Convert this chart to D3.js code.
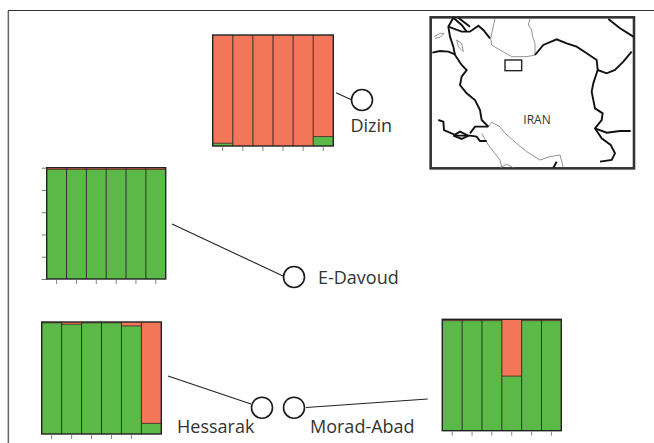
<!DOCTYPE html>
<html><head><meta charset="utf-8">
<style>html,body{margin:0;padding:0;background:#fff}svg{display:block}text{font-family:"Open Sans",sans-serif;fill:#333}</style>
<script src="https://cdn.jsdelivr.net/npm/d3@7"></script></head><body><svg id="c" width="654" height="443"></svg>
<script>
const sites = ["Dizin","E-Davoud","Hessarak","Morad-Abad"];
const dizinGreen = [0.025,0,0,0,0,0.085];
const davoudGreen = [0.985,0.985,0.985,0.985,0.985,0.985];
const hessarakGreen = [0.993,0.98,0.993,0.993,0.965,0.095];
const moradGreen = [0.988,0.988,0.988,0.49,0.988,0.988];
const individuals = [1,2,3,4,5,6];
const yTicks = [0,0.2,0.4,0.6,0.8,1];
const mapLabel = "IRAN";

// map outlines, in map-image units
const borders = [
 [[100,38],[85,65],[90,95],[100,125],[105,150],[125,180],[140,195],[125,215],[120,240],[140,265],[165,285],[180,315],[185,345],[205,365]],
 [[37,143],[60,138],[85,140],[105,148]],
 [[85,65],[125,80],[150,80],[175,62],[190,75],[210,100]],
 [[100,38],[125,60],[140,80]],[[115,38],[150,65]],
 [[345,150],[370,120],[410,103],[440,115],[470,125],[500,145],[530,165],[533,195],[520,235],[515,260],[525,310],[548,325],[545,345],[525,370],[545,400],[572,420],[585,445],[575,465],[540,470]],
 [[533,195],[560,205],[585,195],[610,170],[635,140]],
 [[525,370],[560,383],[600,378],[632,378]],
 [[565,42],[600,70],[640,95]],
 [[55,345],[70,350],[72,375],[110,392],[150,392],[170,395],[180,408],[200,408]],
 [[100,392],[120,380],[145,392],[125,402],[100,392]],
 [[150,385],[165,365],[205,365]],
 [[400,488],[410,470]]
];
const coasts = [
 [[225,40],[212,100],[215,120],[240,135],[275,155],[320,155],[345,150],[345,115],[338,95],[335,75],[325,60],[330,40]],
 [[205,365],[215,352],[240,365],[255,385],[290,415],[320,440],[360,465],[390,455],[420,450],[430,488]],
 [[185,385],[205,420],[240,465],[245,488]],
 [[110,105],[125,115],[130,140],[115,125],[110,105]],
 [[42,95],[60,85],[72,85],[60,97],[45,100]],
 [[240,488],[260,478],[280,488]]
];

const svg = d3.select("#c");
svg.append("path").attr("d","M8.5,443V10.5H654").attr("fill","none").attr("stroke","#333").attr("stroke-width",1.2);
svg.append("path").attr("d","M8,11V443").attr("stroke","#999").attr("stroke-width",1);

const panels = [
 {v:dizinGreen,x0:212.7,x1:333.3,y0:146,y1:35,hide:[]},
 {v:davoudGreen,x0:46.7,x1:165.7,y0:279,y1:167.7,hide:[],yAxis:true},
 {v:hessarakGreen,x0:41.7,x1:161.3,y0:434,y1:322,hide:[6]},
 {v:moradGreen,x0:442.3,x1:561.3,y0:430.7,y1:319.3,hide:[]}
];
panels.forEach(p=>{
  const x=d3.scaleBand().domain(individuals).range([p.x0,p.x1]);
  const y=d3.scaleLinear().domain([0,1]).range([p.y0,p.y1]);
  const g=svg.append("g");
  const rows=p.v.map((d,i)=>({green:d,id:individuals[i]}));
  const bars=g.selectAll("g").data(rows).join("g");
  bars.append("rect").attr("x",d=>x(d.id)).attr("width",x.bandwidth())
    .attr("y",y(1)).attr("height",d=>y(d.green)-y(1)).attr("fill","#f47658");
  bars.append("rect").attr("x",d=>x(d.id)).attr("width",x.bandwidth())
    .attr("y",d=>y(d.green)).attr("height",d=>y(0)-y(d.green)).attr("fill","#5bba47");
  bars.filter(d=>d.green>0).append("line").attr("x1",d=>x(d.id)).attr("x2",d=>x(d.id)+x.bandwidth())
    .attr("y1",d=>y(d.green)).attr("y2",d=>y(d.green)).attr("stroke","#4a2a20").attr("stroke-width",0.9);
  g.selectAll("line.div").data(individuals.slice(1)).join("line").attr("class","div")
    .attr("x1",d=>x(d)).attr("x2",d=>x(d)).attr("y1",y(0)).attr("y2",y(1)).attr("stroke","#2c2c2c").attr("stroke-width",1);
  g.append("rect").attr("x",p.x0).attr("y",p.y1).attr("width",p.x1-p.x0).attr("height",p.y0-p.y1)
    .attr("fill","none").attr("stroke","#222").attr("stroke-width",1.4);
  const ax=g.append("g").attr("transform",`translate(0,${p.y0})`)
    .call(d3.axisBottom(x).tickSize(4).tickFormat("").tickValues(individuals.filter(d=>!p.hide.includes(d))));
  ax.select(".domain").remove();
  ax.selectAll("line").attr("stroke","#666").attr("stroke-width",0.8).attr("y1",1).attr("y2",5);
  if(p.yAxis){
    const ay=g.append("g").attr("transform",`translate(${p.x0},0)`)
      .call(d3.axisLeft(y).tickValues(yTicks).tickSize(5).tickFormat(""));
    ay.select(".domain").remove();
    ay.selectAll("line").attr("stroke","#555").attr("stroke-width",0.8);
  }
});

const connectors=[[336,92.7,352,100],[172,224,283,276],[168,376,251,404],[306,407.5,427.7,399]];
const circles=[[362,100],[294,277],[262,407.7],[294,407.7]];
const labels=[[350.5,132],[318,284],[177,433],[310,433]];
svg.selectAll("line.c").data(connectors).join("line").attr("class","c")
  .attr("x1",d=>d[0]).attr("y1",d=>d[1]).attr("x2",d=>d[2]).attr("y2",d=>d[3]).attr("stroke","#222").attr("stroke-width",1.1);
svg.selectAll("circle").data(circles).join("circle").attr("cx",d=>d[0]).attr("cy",d=>d[1]).attr("r",10.5)
  .attr("fill","#fff").attr("stroke","#1a1a1a").attr("stroke-width",1.6);
svg.selectAll("text.l").data(sites).join("text").attr("class","l")
  .attr("x",(d,i)=>labels[i][0]).attr("y",(d,i)=>labels[i][1]).attr("font-size",18).text(d=>d);

const mx=d3.scaleLinear().domain([0,702]).range([420,654]);
const my=d3.scaleLinear().domain([0,525]).range([5,180]);
const line=d3.line().x(d=>mx(d[0])).y(d=>my(d[1]));
const m=svg.append("g");
m.append("rect").attr("x",mx(32)).attr("y",my(37)).attr("width",mx(642)-mx(32)).attr("height",my(490)-my(37))
  .attr("fill","#fff").attr("stroke","#333").attr("stroke-width",2.6);
m.selectAll("path.co").data(coasts).join("path").attr("class","co").attr("d",line).attr("fill","none").attr("stroke","#777").attr("stroke-width",0.8);
m.selectAll("path.bo").data(borders).join("path").attr("class","bo").attr("d",line).attr("fill","none").attr("stroke","#111").attr("stroke-width",1.9);
m.append("rect").attr("x",mx(255)).attr("y",my(165)).attr("width",mx(305)-mx(255)).attr("height",my(197)-my(165))
  .attr("fill","#fff").attr("stroke","#222").attr("stroke-width",1.4);
m.append("text").attr("x",mx(351)).attr("y",my(356)).attr("text-anchor","middle").attr("font-size",12).text(mapLabel);
</script></body></html>
